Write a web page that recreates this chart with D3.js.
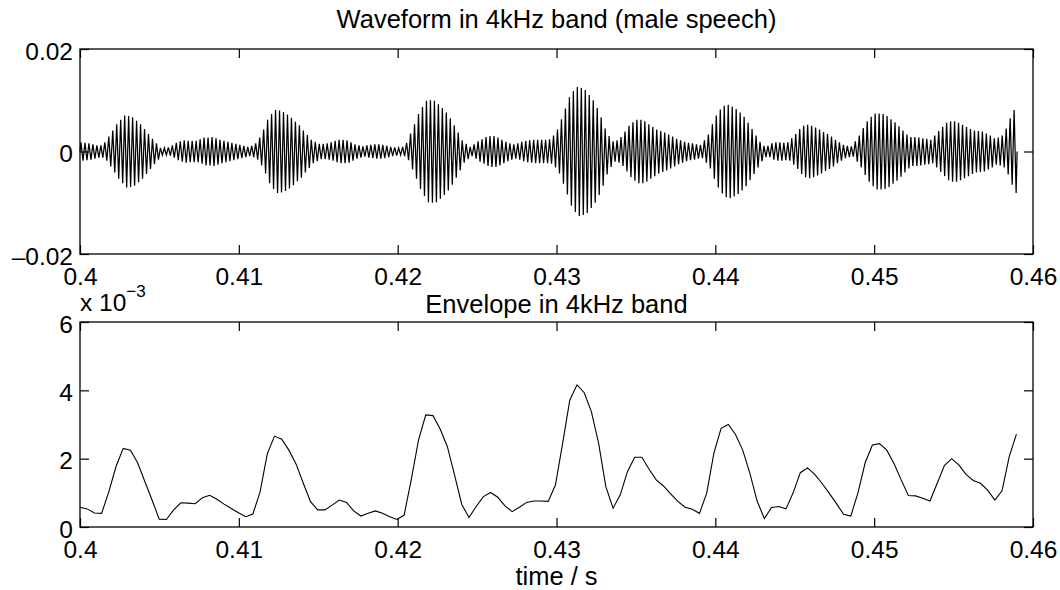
<!DOCTYPE html>
<html><head><meta charset="utf-8">
<script src="https://cdn.jsdelivr.net/npm/d3@7"></script>
<style>
body{margin:0;background:#fff}
text{font-family:"Liberation Sans",Arial,Helvetica,sans-serif;fill:#000}
</style>
</head><body>
<svg id="c" width="1060" height="590"></svg>
<script>
// ---------- data ----------
const xTicks = [0.4, 0.41, 0.42, 0.43, 0.44, 0.45, 0.46];
const xTickLabels = ["0.4", "0.41", "0.42", "0.43", "0.44", "0.45", "0.46"];
const waveYTicks = [-0.02, 0, 0.02];
const waveYTickLabels = ["\u20130.02", "0", "0.02"];
const envYTicks = [0, 2, 4, 6];           // x 10^-3
const envYTickLabels = ["0", "2", "4", "6"];
const titleTop = "Waveform in 4kHz band (male speech)";
const titleBottom = "Envelope in 4kHz band";
const xLabel = "time / s";

// waveform: peak amplitude of each carrier cycle (x 10^-3)
const waveStart = 0.4;
const waveCycle = 0.00025;   // one 4 kHz cycle
const wavePeaks = [
 1.8,1.7,1.6,1.4,1.2,1.2,1.8,2.9,4.1,5.3,
 6.2,7.0,6.9,6.7,6.0,5.3,4.4,3.4,2.5,1.6,
 0.7,0.7,0.8,1.2,1.7,2.0,2.2,2.1,2.1,2.1,
 2.4,2.7,2.7,2.8,2.6,2.3,2.1,1.9,1.7,1.5,
 1.3,1.1,0.9,1.1,1.6,2.7,4.3,6.2,7.3,8.1,
 8.0,7.7,7.2,6.6,5.8,5.1,4.1,3.2,2.3,1.9,
 1.5,1.5,1.6,1.8,2.1,2.3,2.3,2.2,1.8,1.4,
 1.2,1.0,1.2,1.3,1.4,1.4,1.3,1.1,0.9,0.8,
 0.7,0.9,1.7,3.5,5.3,7.3,8.7,9.9,10.0,9.9,
 9.2,8.5,7.6,6.5,5.1,3.7,2.2,1.5,0.9,1.4,
 2.0,2.4,2.8,3.0,3.0,2.7,2.3,1.9,1.6,1.4,
 1.6,1.9,2.1,2.2,2.3,2.3,2.3,2.3,2.4,3.1,
 4.3,6.3,8.4,10.6,11.8,12.6,12.4,12.0,11.0,10.0,
 8.5,6.7,4.5,3.0,2.0,2.2,2.8,3.9,5.0,5.7,
 6.2,6.2,5.9,5.3,4.8,4.3,4.0,3.7,3.3,2.9,
 2.5,2.2,1.9,1.7,1.6,1.4,1.3,2.2,3.3,5.3,
 7.0,8.2,8.9,9.1,8.8,8.3,7.6,6.8,5.6,4.4,
 3.1,1.9,1.1,1.1,1.6,1.8,1.8,1.7,1.8,2.6,
 3.4,4.4,5.0,5.2,5.0,4.7,4.3,3.8,3.4,2.9,
 2.3,1.8,1.3,1.1,1.0,2.0,3.1,4.6,5.9,6.8,
 7.4,7.4,7.3,6.9,6.3,5.7,4.9,4.1,3.3,2.8,
 2.8,2.7,2.6,2.5,2.3,3.1,4.0,4.8,5.6,5.9,
 5.9,5.6,5.2,4.8,4.4,4.1,4.0,3.9,3.5,3.1,
 2.6,2.7,3.1,4.5,6.5,8.1
];

// envelope samples (x 10^-3)
const envStart = 0.4;
const envStep = 1 / 2205;
const envelope = [
 0.58,0.53,0.41,0.40,1.03,1.77,2.30,2.25,1.88,1.33,
 0.79,0.23,0.22,0.50,0.71,0.70,0.68,0.86,0.93,0.81,
 0.67,0.54,0.42,0.30,0.38,1.03,2.14,2.66,2.57,2.25,
 1.84,1.28,0.74,0.50,0.50,0.64,0.79,0.72,0.47,0.32,
 0.40,0.47,0.40,0.30,0.22,0.35,1.40,2.55,3.28,3.26,
 2.87,2.35,1.52,0.66,0.28,0.60,0.89,1.01,0.87,0.62,
 0.45,0.58,0.72,0.76,0.76,0.75,1.23,2.45,3.72,4.16,
 3.93,3.37,2.45,1.18,0.55,0.94,1.62,2.04,2.04,1.69,
 1.38,1.20,0.97,0.75,0.58,0.52,0.40,0.99,2.16,2.89,
 3.00,2.71,2.25,1.57,0.76,0.25,0.57,0.60,0.53,1.00,
 1.59,1.73,1.54,1.28,0.99,0.69,0.37,0.32,1.00,1.88,
 2.40,2.44,2.25,1.86,1.38,0.92,0.91,0.84,0.76,1.28,
 1.80,2.00,1.82,1.54,1.36,1.28,1.08,0.79,1.06,2.06,
 2.72
];

// ---------- layout ----------
const svg = d3.select("#c");
const L = 80, R = 1033;
const topBox = {y0: 49, y1: 254};
const botBox = {y0: 322, y1: 527};
const FS = 24.5;     // tick labels
const FT = 25.5;     // titles / axis label
const TICK = 9;

const x = d3.scaleLinear().domain([0.4, 0.46]).range([L, R]);
const yW = d3.scaleLinear().domain([-0.02, 0.02]).range([topBox.y1, topBox.y0]);
const yE = d3.scaleLinear().domain([0, 6]).range([botBox.y1, botBox.y0]);

function drawAxes(box, yScale, yTicks, yLabels) {
  const g = svg.append("g");
  const ax = d3.axisBottom(x).tickValues(xTicks)
    .tickFormat((d, i) => xTickLabels[i]).tickSize(-TICK).tickSizeOuter(0).tickPadding(14);
  const gb = g.append("g").attr("transform", `translate(0,${box.y1})`).call(ax);
  const gt = g.append("g").attr("transform", `translate(0,${box.y0})`)
    .call(d3.axisTop(x).tickValues(xTicks).tickFormat("").tickSize(-TICK).tickSizeOuter(0));
  const gl = g.append("g").attr("transform", `translate(${L},0)`)
    .call(d3.axisLeft(yScale).tickValues(yTicks).tickFormat((d, i) => yLabels[i])
      .tickSize(-TICK).tickSizeOuter(0).tickPadding(7));
  const gr = g.append("g").attr("transform", `translate(${R},0)`)
    .call(d3.axisRight(yScale).tickValues(yTicks).tickFormat("").tickSize(-TICK).tickSizeOuter(0));
  [gb, gt, gl, gr].forEach(a => {
    a.select(".domain").remove();
    a.selectAll(".tick line").attr("stroke", "#000").attr("stroke-width", 1.2);
    a.selectAll("text").style("font-size", FS + "px").attr("fill", "#000")
      .style("font-family", '"Liberation Sans",Arial,sans-serif');
  });
  gl.selectAll("text").attr("dy", "0.41em");
  g.append("rect").attr("x", L).attr("y", box.y0).attr("width", R - L)
    .attr("height", box.y1 - box.y0).attr("fill", "none")
    .attr("stroke", "#000").attr("stroke-width", 1.3);
}

// ---------- waveform ----------
const wavePts = [[waveStart, 0]];
wavePeaks.forEach((a, c) => {
  const t = waveStart + c * waveCycle;
  wavePts.push([t + waveCycle * 0.25, a / 1000]);
  wavePts.push([t + waveCycle * 0.75, -a / 1000]);
});
wavePts.push([waveStart + wavePeaks.length * waveCycle, 0]);

svg.append("path").datum(wavePts)
  .attr("d", d3.line().x(d => x(d[0])).y(d => yW(d[1])))
  .attr("fill", "none").attr("stroke", "#000").attr("stroke-width", 1.25)
  .attr("stroke-linejoin", "miter");

drawAxes(topBox, yW, waveYTicks, waveYTickLabels);

// ---------- envelope ----------
svg.append("path").datum(envelope)
  .attr("d", d3.line().x((d, i) => x(envStart + i * envStep)).y(d => yE(d)))
  .attr("fill", "none").attr("stroke", "#000").attr("stroke-width", 1.1);

drawAxes(botBox, yE, envYTicks, envYTickLabels);

// ---------- texts ----------
const cx = (L + R) / 2;
svg.append("text").attr("x", cx).attr("y", 28).attr("text-anchor", "middle")
  .style("font-size", FT + "px").text(titleTop);
svg.append("text").attr("x", cx).attr("y", 313).attr("text-anchor", "middle")
  .style("font-size", FT + "px").text(titleBottom);
svg.append("text").attr("x", cx).attr("y", 585).attr("text-anchor", "middle")
  .style("font-size", FT + "px").text(xLabel);
const mult = svg.append("text").attr("x", L).attr("y", 311).style("font-size", FS + "px");
mult.append("tspan").text("x 10");
mult.append("tspan").attr("dy", -14).style("font-size", "17px").text("\u22123");
</script>
</body></html>
